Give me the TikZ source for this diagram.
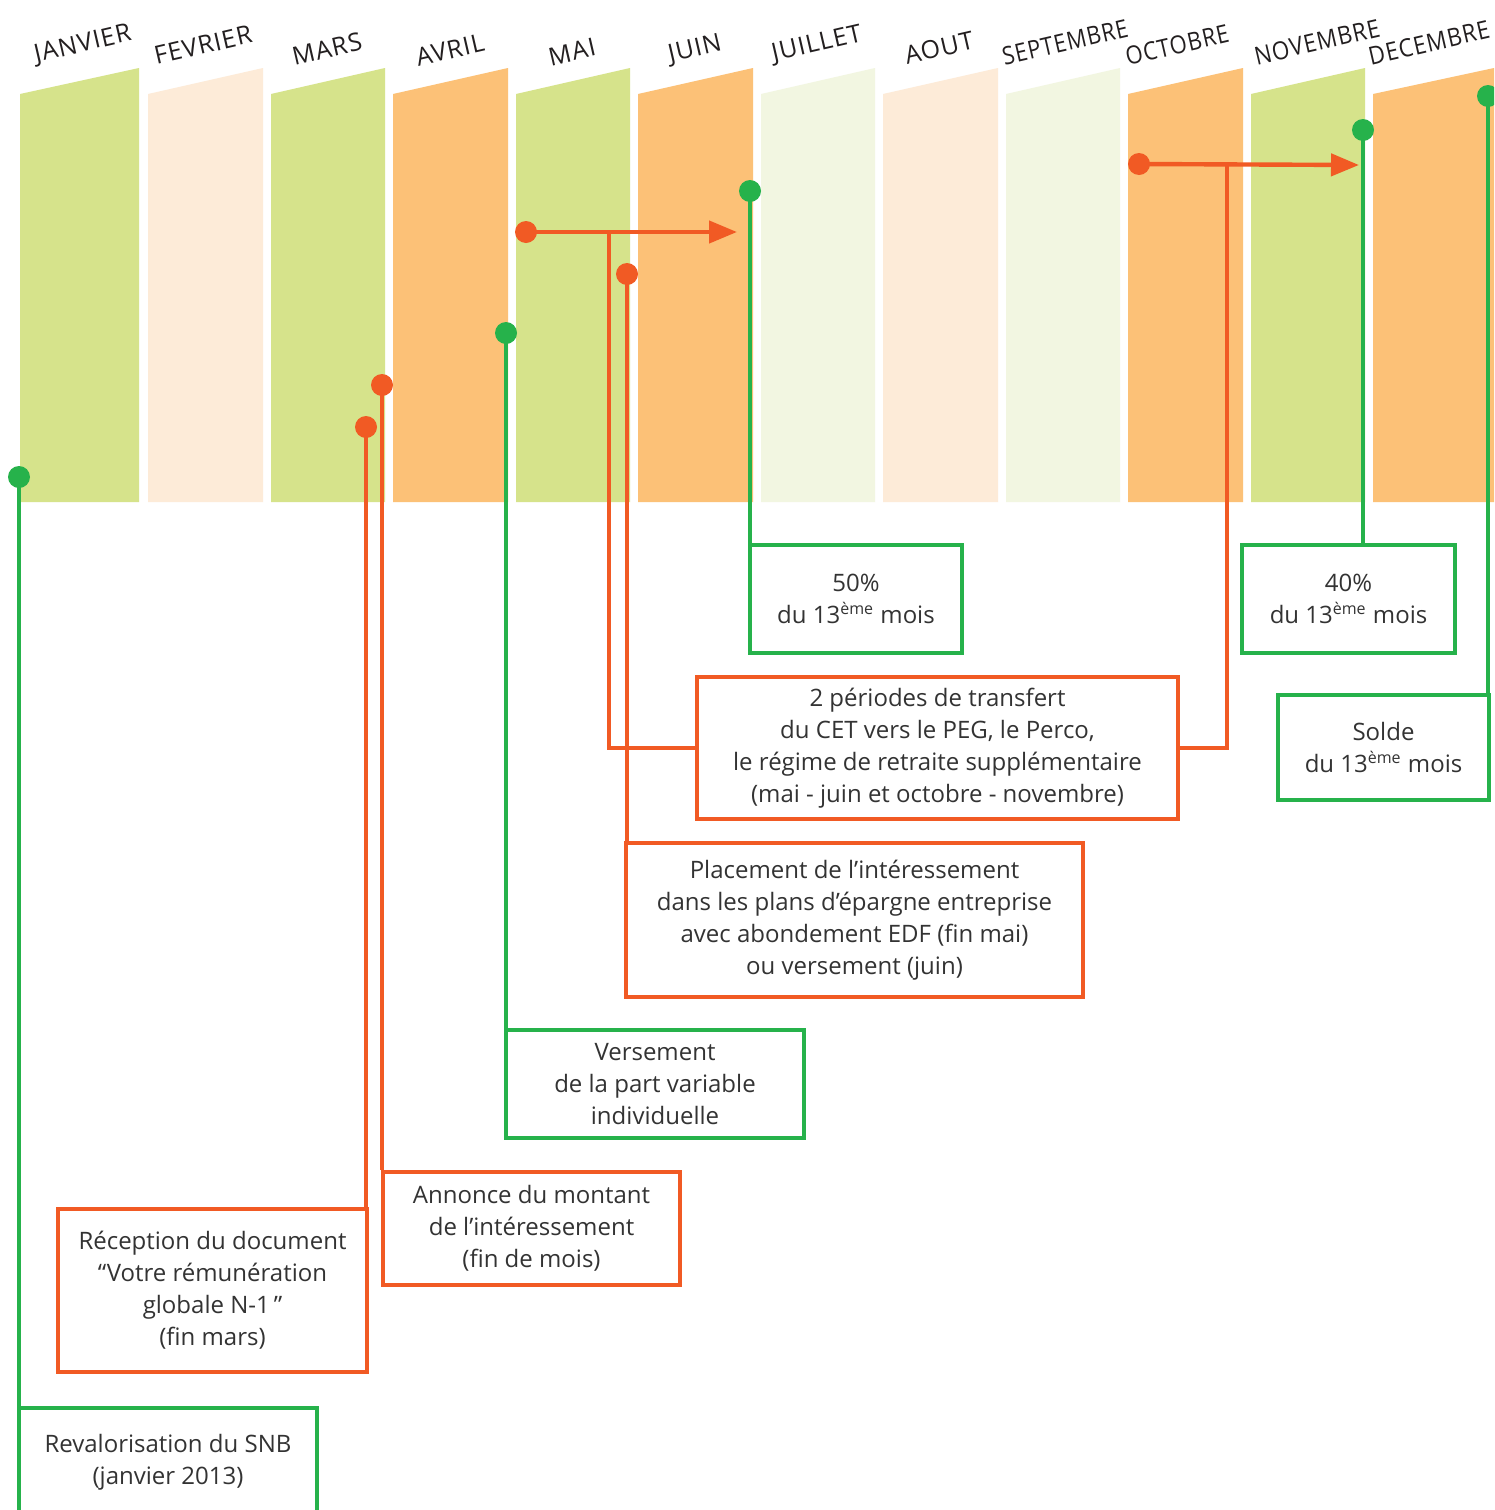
\documentclass[tikz,border=0pt]{standalone}
\usepackage{fontspec}
\setmainfont{Open Sans}
\newfontfamily\mfont[LetterSpace=4]{Open Sans}
\usetikzlibrary{arrows.meta}
\definecolor{cg}{HTML}{D6E38B}
\definecolor{cp}{HTML}{FDEBD8}
\definecolor{co}{HTML}{FCC177}
\definecolor{cpg}{HTML}{F2F6E1}
\definecolor{lgreen}{HTML}{26B24B}
\definecolor{lorange}{HTML}{F15A24}
\definecolor{txt}{HTML}{333333}
\definecolor{mtxt}{HTML}{231F20}
\begin{document}
\begin{tikzpicture}[x=0.5pt,y=-0.5pt,
  btext/.style={align=center, font=\fontsize{12}{16}\selectfont, text=txt,
    execute at begin node={\rule{0pt}{12pt}}},
  box/.style={btext, draw, line width=2pt, inner sep=0pt},
  gbox/.style={box, draw=lgreen},
  obox/.style={box, draw=lorange},
  gline/.style={draw=lgreen, line width=2.2pt},
  oline/.style={draw=lorange, line width=2.2pt},
  gdot/.style={circle, fill=lgreen, inner sep=0pt, minimum size=11pt},
  odot/.style={circle, fill=lorange, inner sep=0pt, minimum size=11pt},
  month/.style={font=\mfont\fontsize{12.5}{14}\selectfont, text=mtxt, inner sep=0pt, rotate=13},
  tip/.style={-{Triangle[length=14pt,width=11pt]}}
]
\clip (0,0) rectangle (1494,1510);
\fill[white] (0,0) rectangle (1494,1510);
% columns
\foreach \xa/\xb/\c in {20/139/cg, 148/263/cp, 271/385/cg, 393/508/co,
  516/630/cg, 638/753/co, 761/875/cpg, 883/998/cp, 1006/1120/cpg,
  1128/1243/co, 1251/1365/cg, 1373/1494/co}
  \fill[\c] (\xa,502) -- (\xa,94) -- (\xb,68) -- (\xb,502) -- cycle;
% month labels
\node[month] (mjan) at (83,45) {JANVIER};
\node[month] (mfev) at (203,45) {FEVRIER};
\node[month] (mmar) at (327,49) {MARS};
\node[month] (mavr) at (450,50) {AVRIL};
\node[month] (mmai) at (572,52) {MAI};
\node[month] (mjui) at (695,50) {JUIN};
\node[month] (mjul) at (817,45) {JUILLET};
\node[month] (maou) at (939,48) {AOUT};
\node[month, xscale=0.875] (msep) at (1065,42) {SEPTEMBRE};
\node[month, xscale=0.88] (moct) at (1177,45) {OCTOBRE};
\node[month, xscale=0.9] (mnov) at (1317,42) {NOVEMBRE};
\node[month, xscale=0.9] (mdec) at (1429,43) {DECEMBRE};
% boxes
\node[gbox, minimum width=149pt, minimum height=54pt] (snb) at (168,1462) {};
\node[btext, inner sep=0pt] (snbt) at (168,1462) {Revalorisation du SNB\\(janvier 2013)};
\node[obox, minimum width=154.5pt, minimum height=81.5pt] (rec) at (212.5,1290.5)
  {Réception du document\\“Votre rémunération\\globale N-1\,”\\(fin mars)};
\node[obox, minimum width=148.5pt, minimum height=56.5pt] (ann) at (531.5,1228.5)
  {Annonce du montant\\de l’intéressement\\(fin de mois)};
\node[gbox, minimum width=149pt, minimum height=54pt] (ver) at (655,1084)
  {Versement\\de la part variable\\individuelle};
\node[obox, minimum width=240.5pt, minimum height=71pt] (per) at (937.5,748)
  {2 périodes de transfert\\du CET vers le PEG, le Perco,\\le régime de retraite supplémentaire\\(mai - juin et octobre - novembre)};
\node[obox, minimum width=228.5pt, minimum height=77pt] (pla) at (854.5,920)
  {Placement de l’intéressement\\dans les plans d’épargne entreprise\\avec abondement EDF (fin mai)\\ou versement (juin)};
\node[gbox, minimum width=106pt, minimum height=54pt] (m50) at (856,599)
  {50\%\\du 13\textsuperscript{ème} mois};
\node[gbox, minimum width=106.5pt, minimum height=54pt] (m40) at (1348.5,599)
  {40\%\\du 13\textsuperscript{ème} mois};
\node[gbox, minimum width=105.5pt, minimum height=52.5pt] (sol) at (1383.5,747.5)
  {Solde\\du 13\textsuperscript{ème} mois};
% dots
\node[gdot] (d1) at (19,477) {};
\node[odot] (d2) at (366,427) {};
\node[odot] (d3) at (382,385) {};
\node[gdot] (d4) at (506,333) {};
\node[odot] (d5) at (526,232) {};
\node[odot] (d6) at (627,274) {};
\node[gdot] (d7) at (750,191) {};
\node[odot] (d8) at (1139,164) {};
\node[gdot] (d9) at (1363,130) {};
\node[gdot] (d10) at (1488,96) {};
\coordinate (a1) at (737,232);
\coordinate (b1) at (609,232);
\coordinate (a2) at (1359,165);
\coordinate (b2) at (1227,165);
% connectors
\draw[gline] (d1.center) -- (d1.center |- snb.north);
\draw[oline] (d2.center) -- (d2.center |- rec.north);
\draw[oline] (d3.center) -- (d3.center |- ann.north);
\draw[gline] (d4.center) -- (d4.center |- ver.north);
\draw[oline, tip] (d5.center) -- (a1);
\draw[oline] (b1) |- (per.west);
\draw[oline] (d6.center) -- (d6.center |- pla.north);
\draw[gline] (d7.center) -- (d7.center |- m50.north);
\draw[oline, tip] (d8.center) -- (a2);
\draw[oline] (b2) |- (per.east);
\draw[gline] (d9.center) -- (d9.center |- m40.north);
\draw[gline] (d10.center) -- (d10.center |- sol.north);
\end{tikzpicture}
\end{document}
